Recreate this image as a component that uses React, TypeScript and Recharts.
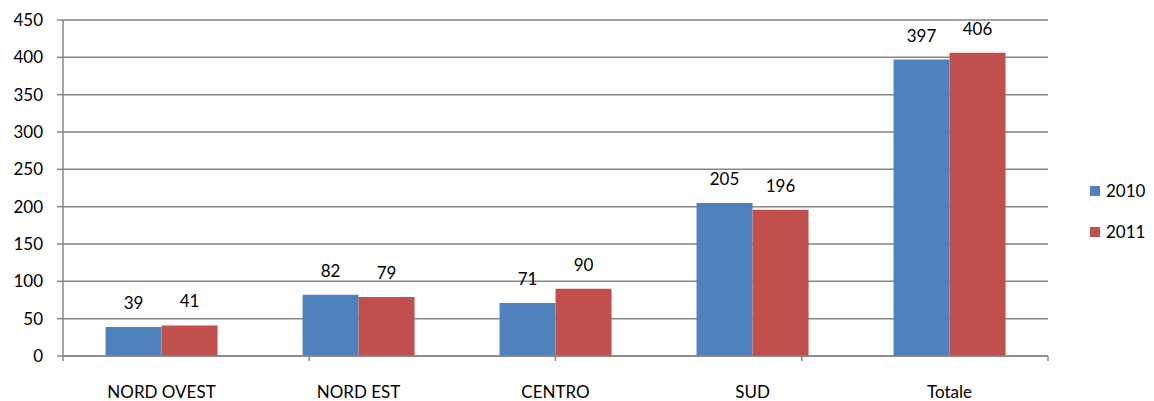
import { BarChart, Bar, XAxis, YAxis, CartesianGrid, Legend, LabelList } from "recharts"

const regions = ["NORD OVEST", "NORD EST", "CENTRO", "SUD", "Totale"]
const values2010 = [39, 82, 71, 205, 397]
const values2011 = [41, 79, 90, 196, 406]
const yTicks = [0, 50, 100, 150, 200, 250, 300, 350, 400, 450]
const edgeTicks = [0, 1, 2, 3, 4, 5]

const data = regions.map((name, i) => ({ name, y2010: values2010[i], y2011: values2011[i] }))

const FONT = "Lato, 'Open Sans', sans-serif"
const GRID = "#868686"

const LegendBox = () => (
    <div style={{ fontFamily: FONT, fontSize: 17, color: "#000" }}>
        {[
            { label: "2010", color: "#4F81BD" },
            { label: "2011", color: "#C0504D" },
        ].map(item => (
            <div key={item.label} style={{ display: "flex", alignItems: "center", height: 41 }}>
                <span style={{ width: 10, height: 10, background: item.color, marginRight: 6 }} />
                <span>{item.label}</span>
            </div>
        ))}
    </div>
)

export default function App() {
    return (
        <div style={{ position: "absolute", left: 0, top: 0, background: "#fff" }}>
            <BarChart
                width={1154}
                height={401}
                data={data}
                margin={{ top: 20, right: 46, left: 0, bottom: 0 }}
                barCategoryGap="21.6%"
                barGap={0}
            >
                <CartesianGrid vertical={false} stroke={GRID} strokeWidth={1.5} />
                {/* boundary ticks between categories, like Excel */}
                <XAxis
                    type="number"
                    domain={[0, 5]}
                    ticks={edgeTicks}
                    tickFormatter={() => ""}
                    axisLine={{ stroke: GRID, strokeWidth: 1.5 }}
                    tickLine={{ stroke: GRID, strokeWidth: 1.5 }}
                    tickSize={5}
                    height={1}
                />
                <XAxis
                    xAxisId="cat"
                    dataKey="name"
                    height={44}
                    axisLine={false}
                    tickLine={false}
                    tickMargin={23}
                    tick={{ fill: "#000", fontSize: 17, fontFamily: FONT }}
                />
                <YAxis
                    domain={[0, 450]}
                    ticks={yTicks}
                    width={63}
                    axisLine={{ stroke: GRID, strokeWidth: 1.5 }}
                    tickLine={{ stroke: GRID, strokeWidth: 1.5 }}
                    tickSize={6}
                    tickMargin={14}
                    tick={{ fill: "#000", fontSize: 17, fontFamily: FONT }}
                />
                <Legend
                    layout="vertical"
                    align="right"
                    verticalAlign="middle"
                    content={<LegendBox />}
                    wrapperStyle={{ position: "absolute", left: 1090, top: 170, width: 60 }}
                />
                <Bar xAxisId="cat" dataKey="y2010" fill="#4F81BD" isAnimationActive={false}>
                    <LabelList dataKey="y2010" position="top" offset={18} fill="#000" fontSize={17} fontFamily={FONT} />
                </Bar>
                <Bar xAxisId="cat" dataKey="y2011" fill="#C0504D" isAnimationActive={false}>
                    <LabelList dataKey="y2011" position="top" offset={18} fill="#000" fontSize={17} fontFamily={FONT} />
                </Bar>
            </BarChart>
        </div>
    )
}
